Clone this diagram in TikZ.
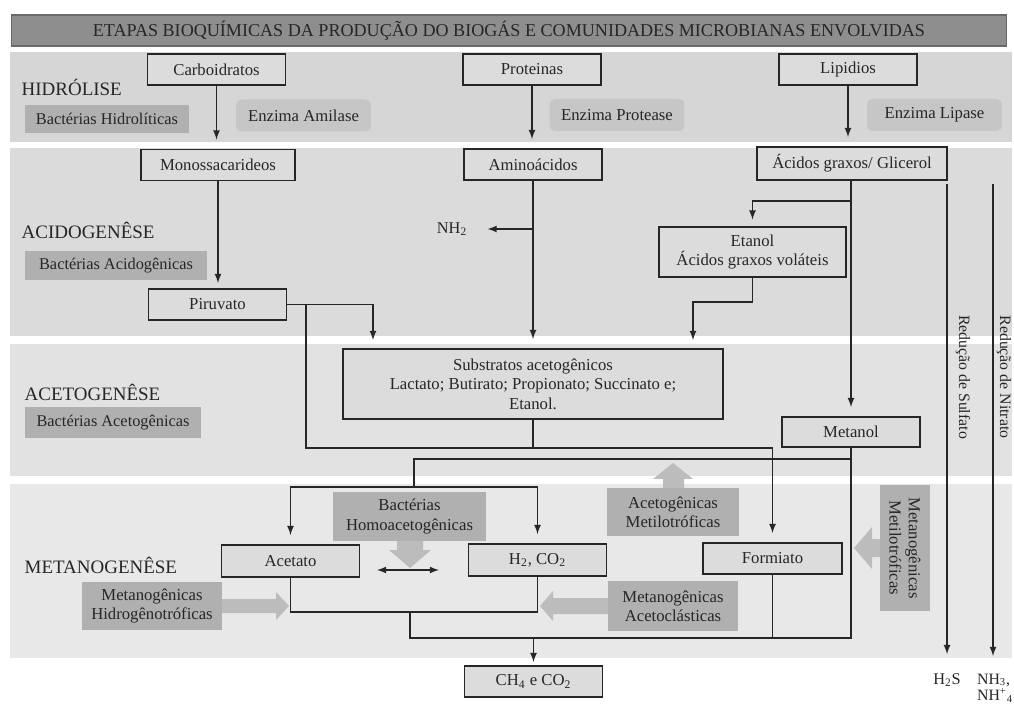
\documentclass[tikz,border=0pt]{standalone}
\usepackage{fontspec}
\setmainfont{Liberation Serif}
\usetikzlibrary{%
  arrows,%
  positioning%
}
\definecolor{faixaA}{HTML}{D6D6D6}
\definecolor{faixaB}{HTML}{DBDBDB}
\definecolor{faixaC}{HTML}{E2E2E2}
\definecolor{faixaD}{HTML}{E8E8E8}
\definecolor{caixa}{HTML}{DCDCDC}
\definecolor{bacfill}{HTML}{B0B0B0}
\definecolor{enzfill}{HTML}{C6C6C6}
\definecolor{setafill}{HTML}{BCBCBC}
\definecolor{titfill}{HTML}{8E8E8E}
\definecolor{titdraw}{HTML}{6A6A6A}
\definecolor{tinta}{HTML}{262626}

\begin{document}
\begin{tikzpicture}
[x=0.02cm, y=-0.02cm, >=latex, line width=0.8pt, color=tinta,
titulo/.style={rectangle, draw=titdraw, fill=titfill, line width=1pt, text=tinta, font=\fontsize{10.3}{12}\selectfont},
etapa/.style={inner sep=0pt, text=tinta, font=\fontsize{10.8}{12}\selectfont},
substrato/.style={rectangle, draw=tinta, fill=caixa, line width=1.1pt, minimum width=2.76cm, minimum height=0.62cm, inner sep=1pt, font=\fontsize{9.5}{11}\selectfont},
bacteria/.style={rectangle, fill=bacfill, inner sep=1pt, font=\fontsize{9.3}{11}\selectfont},
enzima/.style={rectangle, rounded corners=3pt, fill=enzfill, minimum width=2.7cm, minimum height=0.64cm, inner sep=1pt, font=\fontsize{9.5}{11}\selectfont},
grupo/.style={rectangle, fill=bacfill, align=center, inner sep=1pt, font=\fontsize{9.5}{11}\selectfont},
seta/.style={fill=setafill},
rotulo/.style={inner sep=1pt, font=\fontsize{9.3}{11.4}\selectfont},
fluxo/.style={->, shorten >=0.18cm}]

\useasboundingbox (0,0) rectangle (1014,705);

% faixas das etapas
\fill[faixaA] (10,52) rectangle (1012,142);
\fill[faixaB] (10,148) rectangle (1012,336);
\fill[faixaC] (10,344) rectangle (1012,476);
\fill[faixaD] (10,484) rectangle (1012,658);

\node[titulo, minimum width=19.9cm, minimum height=0.54cm] (titulo) at (509,30.5)
  {ETAPAS BIOQUÍMICAS DA PRODUÇÃO DO BIOGÁS E COMUNIDADES MICROBIANAS ENVOLVIDAS};

\node[etapa, anchor=west] (hidrolise) at (21,87) {HIDRÓLISE};
\node[etapa, anchor=west] (acidogenese) at (21,230) {ACIDOGENÊSE};
\node[etapa, anchor=west] (acetogenese) at (24,392) {ACETOGENÊSE};
\node[etapa, anchor=west] (metanogenese) at (24,565) {METANOGENÊSE};

\node[bacteria, minimum width=3.28cm, minimum height=0.56cm] (bachidro) at (107,119) {Bactérias Hidrolíticas};
\node[bacteria, minimum width=3.64cm, minimum height=0.58cm] (bacacido) at (116,265.5) {Bactérias Acidogênicas};
\node[bacteria, minimum width=3.52cm, minimum height=0.62cm] (bacaceto) at (113,422.5) {Bactérias Acetogênicas};

\node[enzima] (amilase) at (303.5,115.5) {Enzima Amilase};
\node[enzima] (protease) at (617,115) {Enzima Protease};
\node[enzima] (lipase) at (934.5,115) {Enzima Lipase};

\node[substrato] (carboidratos) at (216.5,69.5) {Carboidratos};
\node[substrato] (proteinas) at (532,69.5) {Proteinas};
\node[substrato] (lipidios) at (848,69.5) {Lipidios};
\node[substrato, minimum width=3.08cm] (monossac) at (218,165) {Monossacarideos};
\node[substrato] (aminoacidos) at (533,164.5) {Aminoácidos};
\node[substrato, minimum width=3.8cm, minimum height=0.66cm] (acgraxos) at (852,163.5) {Ácidos graxos/ Glicerol};
\node[substrato, minimum width=3.74cm, minimum height=1.0cm, align=center] (etanol) at (752.5,252) {Etanol\\Ácidos graxos voláteis};
\node[substrato] (piruvato) at (217.5,304.5) {Piruvato};
\node[substrato, minimum width=7.6cm, minimum height=1.4cm, align=center] (substratos) at (533,384)
  {Substratos acetogênicos\\Lactato; Butirato; Propionato; Succinato e;\\Etanol.};
\node[substrato, minimum height=0.6cm] (metanol) at (851,432) {Metanol};
\node[substrato, minimum height=0.64cm] (acetato) at (290.5,561) {Acetato};
\node[substrato, minimum height=0.64cm] (h2co2) at (537.5,560) {H\textsubscript{2}, CO\textsubscript{2}};
\node[substrato, minimum width=2.78cm] (formiato) at (772.5,558.5) {Formiato};
\node[substrato] (ch4co2) at (533.5,681.5) {CH\textsubscript{4} e CO\textsubscript{2}};

\node[grupo, minimum width=3.06cm, minimum height=0.98cm] (homoaceto) at (409.5,516.5) {Bactérias\\Homoacetogênicas};
\node[grupo, minimum width=2.64cm, minimum height=0.96cm] (acetometil) at (673,512) {Acetogênicas\\Metilotróficas};
\node[grupo, minimum width=2.8cm, minimum height=0.96cm] (metanohidro) at (152,606) {Metanogênicas\\Hidrogênotróficas};
\node[grupo, minimum width=2.6cm, minimum height=1.0cm] (metanoaceto) at (673,606) {Metanogênicas\\Acetoclásticas};
\node[grupo, rotate=-90, minimum width=2.52cm, minimum height=1.0cm] (metanometil) at (905,548) {Metanogênicas\\Metilotróficas};

\node[rotulo] (nh2) at (452,229) {NH\textsubscript{2}};
\node[rotulo] (h2s) at (947,680) {H\textsubscript{2}S};
\node[rotulo, align=left, anchor=north, inner sep=0pt, font=\fontsize{9}{9.5}\selectfont] (nh3) at (995,673) {NH\textsubscript{3},\\NH\textsuperscript{+}\textsubscript{4}};
\node[rotulo, rotate=-90, font=\fontsize{9}{11}\selectfont] (sulfato) at (963,377) {Redução de Sulfato};
\node[rotulo, rotate=-90, font=\fontsize{9}{11}\selectfont] (nitrato) at (1004,377) {Redução de Nitrato};

% pontos de ramificacao
\coordinate (ramolip) at (851,201);
\coordinate (ramoetanol) at (693,302);
\coordinate (entrada1) at (373,349);
\coordinate (entrada3) at (693,349);
\coordinate (ramopiru) at (306,448);
\coordinate (ramometanol) at (414,459);
\coordinate (ramoacet) at (414,487);
\coordinate (junta1) at (410,612);
\coordinate (junta2) at (410,638);
\coordinate (dupla1) at (377,570);
\coordinate (dupla2) at (439,570);
\coordinate (sulfinicio) at (947,184);
\coordinate (nitrinicio) at (993,184);

\draw[fluxo] (carboidratos.south) -- (carboidratos.south |- monossac.north);
\draw[fluxo] (proteinas.south) -- (proteinas.south |- aminoacidos.north);
\draw[fluxo] (lipidios.south) -- (lipidios.south |- acgraxos.north);
\draw[fluxo, shorten >=0.1cm] (monossac.south) -- (monossac.south |- piruvato.north);
\draw[->, shorten >=0.36cm] (aminoacidos.south |- nh2) -- (nh2.east);
\draw[fluxo] (aminoacidos.south) -- (aminoacidos.south |- substratos.north);
\draw[fluxo] (metanol.north |- acgraxos.south) -- (metanol.north);
\draw[fluxo, shorten >=0.13cm] (ramolip) -| (etanol.north);
\draw[fluxo] (etanol.south) |- (ramoetanol) -- (entrada3);
\draw[fluxo] (piruvato.east) -| (entrada1);
\draw[fluxo] (piruvato.east -| ramopiru) -- (ramopiru) -| (formiato.north);
\draw (substratos.south) -- (substratos.south |- ramopiru);
\draw (metanol.south |- ramometanol) -- (ramometanol) -- (ramoacet);
\draw[fluxo] (ramoacet) -| (acetato.north);
\draw[fluxo] (ramoacet) -| (h2co2.north);
\draw[<->] (dupla1) -- (dupla2);
\draw (acetato.south) |- (junta1) -| (h2co2.south);
\draw (junta1) -- (junta2) -| (metanol.south);
\draw (formiato.south) -- (formiato.south |- junta2);
\draw[->, shorten >=0.06cm] (ch4co2.north |- junta2) -- (ch4co2.north);
\draw[->, shorten >=0.34cm] (sulfinicio) -- (h2s.north);
\draw[->, shorten >=0.34cm] (nitrinicio) -- (nitrinicio |- nh3.north);

% setas largas
\fill[seta] (397,541) -- (423,541) -- (423,550) -- (431,550) -- (410,568) -- (389,550) -- (397,550) -- cycle;
\fill[seta] (663,488) -- (663,479) -- (653,479) -- (673,463) -- (693,479) -- (684,479) -- (684,488) -- cycle;
\fill[seta] (222,599) -- (276,599) -- (276,592) -- (289,606) -- (276,620) -- (276,613) -- (222,613) -- cycle;
\fill[seta] (608,598) -- (553,598) -- (553,591) -- (540,606) -- (553,621) -- (553,614) -- (608,614) -- cycle;
\fill[seta] (880,539) -- (872,539) -- (872,527) -- (854,548) -- (872,569) -- (872,557) -- (880,557) -- cycle;
\end{tikzpicture}
\end{document}
